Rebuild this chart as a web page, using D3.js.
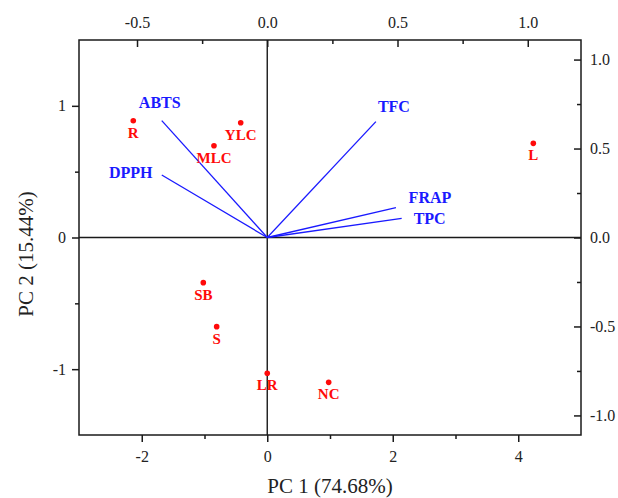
<!DOCTYPE html>
<html>
<head>
<meta charset="utf-8">
<script src="https://cdn.jsdelivr.net/npm/d3@7"></script>
<style>
  html, body { margin: 0; padding: 0; background: #fff; }
  svg { display: block; }
  text { font-family: "Liberation Serif", "Times New Roman", serif; }
</style>
</head>
<body>
<svg id="chart" width="618" height="498"></svg>
<script>
// ---- data ----
const sampleNames = ["R", "YLC", "MLC", "L", "SB", "S", "LR", "NC"];
const pc1Scores   = [-2.135, -0.423, -0.849, 4.240, -1.019, -0.806, 0.0, 0.979];
const pc2Scores   = [0.887, 0.872, 0.697, 0.715, -0.343, -0.677, -1.031, -1.100];

const variableNames = ["ABTS", "DPPH", "TFC", "FRAP", "TPC"];
const pc1Loadings   = [-0.405, -0.405, 0.417, 0.494, 0.516];
const pc2Loadings   = [0.657, 0.351, 0.651, 0.168, 0.108];

const bottomTicks = [-2, 0, 2, 4];
const bottomMinor = [-1, 1, 3];
const leftTicks   = [-1, 0, 1];
const leftMinor   = [-0.5, 0.5];
const topTicks    = [-0.5, 0.0, 0.5, 1.0];
const topMinor    = [-0.25, 0.25, 0.75];
const rightTicks  = [-1.0, -0.5, 0.0, 0.5, 1.0];
const rightMinor  = [-0.75, -0.25, 0.25, 0.75];

const xTitle = "PC 1 (74.68%)";
const yTitle = "PC 2 (15.44%)";

// ---- layout (not data) ----
const L = 79, R = 581, T = 40, B = 435;
const varLabelOffsets = {
  ABTS: [-2, -12.5], DPPH: [-31, 2.5], TFC: [18, -10], FRAP: [34, -5], TPC: [28, 5.5]
};

const svg = d3.select("#chart");

const x = d3.scaleLinear().domain([-3, 5]).range([L, R]);
const y = d3.scaleLinear().domain([-1.5, 1.5]).range([B, T]);
const xTop = d3.scaleLinear().domain([-0.7227, 1.2044]).range([L, R]);
const yRight = d3.scaleLinear().domain([-1.11, 1.11]).range([B, T]);

const fmtInt = d => d3.format("d")(d).replace("\u2212", "-");
const fmt1 = d => d3.format(".1f")(d).replace("\u2212", "-");

const axisColor = "#1a1a1a";
function styleAxis(g, fs) {
  g.select(".domain").remove();
  g.selectAll("line").attr("stroke", axisColor).attr("stroke-width", 1.5);
  g.selectAll("text").attr("fill", "#222").style("font-size", fs + "px")
    .style("font-family", '"Liberation Serif", "Times New Roman", serif');
}

// bottom axis (outward ticks)
svg.append("g").attr("transform", `translate(0,${B})`)
  .call(d3.axisBottom(x).tickValues(bottomTicks).tickFormat(fmtInt).tickSize(7).tickPadding(9))
  .call(g => styleAxis(g, 16));
svg.append("g").attr("transform", `translate(0,${B})`)
  .call(d3.axisBottom(x).tickValues(bottomMinor).tickFormat("").tickSize(4))
  .call(g => styleAxis(g, 16));

// left axis (outward ticks)
svg.append("g").attr("transform", `translate(${L},0)`)
  .call(d3.axisLeft(y).tickValues(leftTicks).tickFormat(fmtInt).tickSize(7).tickPadding(6))
  .call(g => styleAxis(g, 16));
svg.append("g").attr("transform", `translate(${L},0)`)
  .call(d3.axisLeft(y).tickValues(leftMinor).tickFormat("").tickSize(4))
  .call(g => styleAxis(g, 16));

// top axis (inward ticks)
svg.append("g").attr("transform", `translate(0,${T})`)
  .call(d3.axisTop(xTop).tickValues(topTicks).tickFormat(fmt1).tickSize(-7).tickPadding(12))
  .call(g => styleAxis(g, 16));
svg.append("g").attr("transform", `translate(0,${T})`)
  .call(d3.axisTop(xTop).tickValues(topMinor).tickFormat("").tickSize(-4))
  .call(g => styleAxis(g, 16));

// right axis (inward ticks)
svg.append("g").attr("transform", `translate(${R},0)`)
  .call(d3.axisRight(yRight).tickValues(rightTicks).tickFormat(fmt1).tickSize(-7).tickPadding(9))
  .call(g => styleAxis(g, 16));
svg.append("g").attr("transform", `translate(${R},0)`)
  .call(d3.axisRight(yRight).tickValues(rightMinor).tickFormat("").tickSize(-4))
  .call(g => styleAxis(g, 16));

// frame
svg.append("rect").attr("x", L).attr("y", T).attr("width", R - L).attr("height", B - T)
  .attr("fill", "none").attr("stroke", axisColor).attr("stroke-width", 1.5);

// zero lines
svg.append("line").attr("x1", L).attr("x2", R).attr("y1", y(0)).attr("y2", y(0))
  .attr("stroke", axisColor).attr("stroke-width", 1.4);
svg.append("line").attr("x1", x(0)).attr("x2", x(0)).attr("y1", T).attr("y2", B)
  .attr("stroke", axisColor).attr("stroke-width", 1.4);

// loading vectors
const vars = variableNames.map((n, i) => ({ name: n, px: pc1Loadings[i], py: pc2Loadings[i] }));
svg.append("g").selectAll("line").data(vars).join("line")
  .attr("x1", xTop(0)).attr("y1", yRight(0))
  .attr("x2", d => xTop(d.px)).attr("y2", d => yRight(d.py))
  .attr("stroke", "#1a1aff").attr("stroke-width", 1.3);
svg.append("g").selectAll("text").data(vars).join("text")
  .attr("x", d => xTop(d.px) + varLabelOffsets[d.name][0])
  .attr("y", d => yRight(d.py) + varLabelOffsets[d.name][1])
  .attr("text-anchor", "middle")
  .attr("fill", "#1a1aff").style("font-weight", "bold").style("font-size", "16px")
  .text(d => d.name);

// score points
const pts = sampleNames.map((n, i) => ({ name: n, px: pc1Scores[i], py: pc2Scores[i] }));
svg.append("g").selectAll("circle").data(pts).join("circle")
  .attr("cx", d => x(d.px)).attr("cy", d => y(d.py)).attr("r", 2.8)
  .attr("fill", "#ff0a0a");
svg.append("g").selectAll("text").data(pts).join("text")
  .attr("x", d => x(d.px)).attr("y", d => y(d.py) + 17)
  .attr("text-anchor", "middle")
  .attr("fill", "#ff0a0a").style("font-weight", "bold").style("font-size", "15px")
  .text(d => d.name);

// axis titles
svg.append("text").attr("x", (L + R) / 2).attr("y", 493).attr("text-anchor", "middle")
  .attr("fill", "#222").style("font-size", "21px").text(xTitle);
svg.append("text").attr("transform", "translate(33,254) rotate(-90)").attr("text-anchor", "middle")
  .attr("fill", "#222").style("font-size", "21px").text(yTitle);
</script>
</body>
</html>
